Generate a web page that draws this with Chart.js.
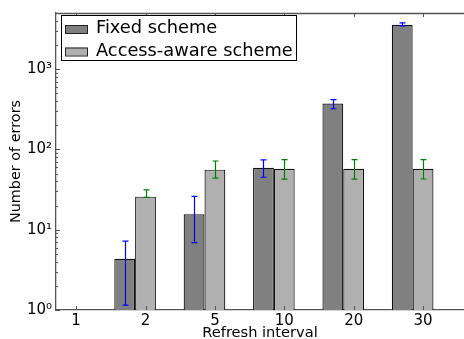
<!DOCTYPE html>
<html>
<head>
<meta charset="utf-8">
<script src="https://cdn.jsdelivr.net/npm/chart.js@4/dist/chart.umd.min.js"></script>
<style>
  html, body { margin: 0; padding: 0; background: #fff; }
  #wrap { width: 464px; height: 339px; }
</style>
</head>
<body>
<div id="wrap"><canvas id="chart"></canvas></div>
<script>
// data
const intervals = ['1', '2', '5', '10', '20', '30'];
const fixedErrors = [null, 4.35, 15.6, 59, 373, 3565];
const fixedLow = [null, 1.15, 6.9, 45, 321, 3460];
const fixedHigh = [null, 7.2, 26, 74, 417, 3770];
const awareErrors = [null, 25.8, 56, 57.5, 57.5, 57.5];
const awareLow = [null, 25.3, 44, 42.6, 42.6, 42.8];
const awareHigh = [null, 31.4, 71.7, 74.6, 74.6, 74.6];
const decades = [1, 10, 100, 1000];
const decadeLabels = ['10⁰', '10¹', '10²', '10³'];

const FONT = 'DejaVu Sans';

// error bars drawn on top of the bars
const errorBars = {
  id: 'errorBars',
  afterDatasetsDraw(chart) {
    const ctx = chart.ctx, y = chart.scales.y;
    chart.data.datasets.forEach((ds, di) => {
      const meta = chart.getDatasetMeta(di);
      meta.data.forEach((bar, i) => {
        const lo = ds.errLow[i], hi = ds.errHigh[i];
        if (lo == null || hi == null) return;
        const top = y.getPixelForValue(hi), bot = y.getPixelForValue(lo);
        const cx = Math.round(bar.x) + 0.5;
        ctx.save();
        ctx.strokeStyle = ds.errColor;
        ctx.lineWidth = 1.2;
        ctx.beginPath();
        ctx.moveTo(cx, top); ctx.lineTo(cx, bot);
        ctx.moveTo(cx - 3, top); ctx.lineTo(cx + 3, top);
        ctx.moveTo(cx - 3, bot); ctx.lineTo(cx + 3, bot);
        ctx.stroke();
        ctx.restore();
      });
    });
  }
};

// matplotlib style: top spine, inward ticks, legend box inside the axes
const frame = {
  id: 'frame',
  afterDraw(chart) {
    const { ctx, chartArea: a, scales: { x, y } } = chart;
    ctx.save();
    ctx.strokeStyle = '#555';
    ctx.lineWidth = 1.3;
    ctx.beginPath();
    ctx.moveTo(a.left, a.top + 0.5); ctx.lineTo(a.right, a.top + 0.5);
    ctx.stroke();

    ctx.lineWidth = 1;
    ctx.beginPath();
    x.ticks.forEach(t => {
      const px = Math.round(x.getPixelForValue(t.value)) + 0.5;
      ctx.moveTo(px, a.bottom); ctx.lineTo(px, a.bottom - 4);
      ctx.moveTo(px, a.top); ctx.lineTo(px, a.top + 4);
    });
    decades.forEach(d => {
      for (let k = 1; k <= 9; k++) {
        const v = d * k;
        if (v > y.max) break;
        const py = Math.round(y.getPixelForValue(v)) + 0.5;
        ctx.moveTo(a.left, py); ctx.lineTo(a.left + (k === 1 ? 4 : 2), py);
      }
    });
    ctx.stroke();

    // legend
    const lx = 61, ly = 15, lw = 235, lh = 45;
    ctx.fillStyle = '#fff';
    ctx.fillRect(lx, ly, lw, lh);
    ctx.strokeStyle = '#000';
    ctx.lineWidth = 1;
    ctx.strokeRect(lx + 0.5, ly + 0.5, lw, lh);
    ctx.font = '17.8px "' + FONT + '"';
    ctx.textBaseline = 'middle';
    chart.data.datasets.forEach((ds, i) => {
      const rowY = ly + 13.5 + i * 22.5;
      ctx.fillStyle = ds.backgroundColor;
      ctx.fillRect(65, rowY - 3.5, 22, 8);
      ctx.strokeStyle = '#222';
      ctx.strokeRect(65.5, rowY - 3, 22, 8);
      ctx.fillStyle = '#000';
      ctx.fillText(ds.label, 96, rowY);
    });
    ctx.restore();
  }
};

new Chart(document.getElementById('chart'), {
  type: 'bar',
  data: {
    datasets: [
      {
        label: 'Fixed scheme',
        data: fixedErrors.map((v, i) => ({ x: i, y: v })),
        errLow: fixedLow,
        errHigh: fixedHigh,
        errColor: '#0000ff',
        backgroundColor: '#808080',
        borderColor: '#111',
        borderWidth: 1.2
      },
      {
        label: 'Access-aware scheme',
        data: awareErrors.map((v, i) => ({ x: i, y: v })),
        errLow: awareLow,
        errHigh: awareHigh,
        errColor: '#008000',
        backgroundColor: '#b0b0b0',
        borderColor: '#111',
        borderWidth: 1.2
      }
    ]
  },
  options: {
    responsive: true,
    maintainAspectRatio: false,
    animation: false,
    categoryPercentage: 0.6,
    barPercentage: 1.0,
    layout: { padding: { top: 10, right: 0, left: 0, bottom: 0 } },
    plugins: { legend: { display: false }, tooltip: { enabled: false } },
    scales: {
      x: {
        type: 'linear',
        offset: false,
        min: -0.14,
        max: 5.74,
        afterBuildTicks: s => { s.ticks = intervals.map((_, i) => ({ value: i + 0.15 })); },
        afterFit: s => { s.height = 29; },
        grid: { display: false, drawTicks: false, offset: false },
        border: { display: true, color: '#555', width: 1.3 },
        ticks: {
          padding: 2,
          color: '#000',
          font: { family: FONT, size: 15 },
          callback: (v, i) => intervals[i]
        },
        title: {
          display: true,
          text: 'Refresh interval',
          color: '#000',
          font: { family: FONT, size: 14.6 },
          padding: { top: 0, bottom: -3 }
        }
      },
      y: {
        type: 'logarithmic',
        min: 1,
        max: 5000,
        afterBuildTicks: s => { s.ticks = decades.map(v => ({ value: v })); },
        afterFit: s => { s.width = 56; },
        grid: { display: false, drawTicks: false },
        border: { display: true, color: '#555', width: 1.3 },
        ticks: {
          padding: 4,
          color: '#000',
          font: { family: FONT, size: 15 },
          callback: v => decadeLabels[decades.indexOf(v)]
        },
        title: {
          display: true,
          text: 'Number of errors',
          color: '#000',
          font: { family: FONT, size: 14.4 },
          padding: { top: 7.6, bottom: 0 }
        }
      }
    }
  },
  plugins: [errorBars, frame]
});
</script>
</body>
</html>
